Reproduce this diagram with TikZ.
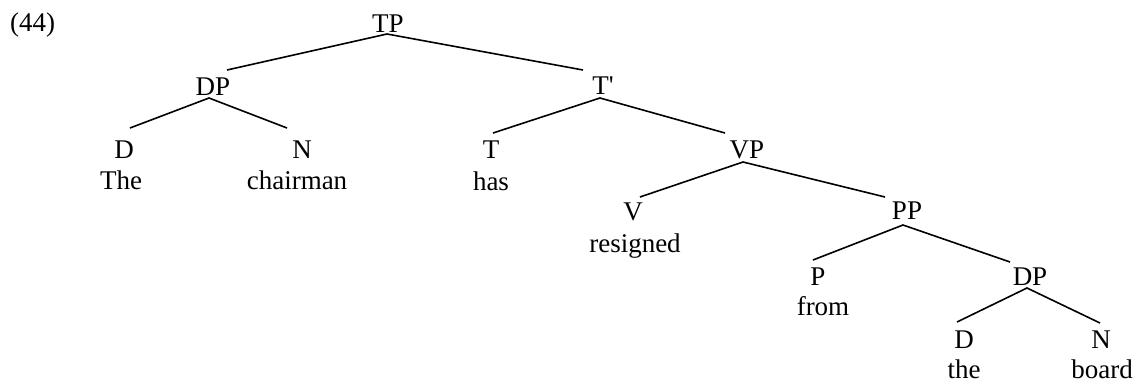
\documentclass[tikz,border=0pt]{standalone}
\usepackage{fontspec}
\newfontfamily\tf{Liberation Serif}
\begin{document}
\begin{tikzpicture}[x=1pt,y=-1pt,
  lab/.style={anchor=base,inner sep=0pt,font=\tf\fontsize{27}{32}\selectfont},
  edge/.style={line width=1.6pt,line cap=butt}]
\useasboundingbox (0,0) rectangle (1136,381);
% labels
\node[lab,anchor=base west] (ex) at (10,31) {(44)};
\node[lab] (TP) at (388,32) {TP};
\node[lab] (DPa) at (213,95) {DP};
\node[lab] (Tbar) at (603,94) {T'};
\node[lab] (Da) at (124,158) {D};
\node[lab] (Na) at (302,158) {N};
\node[lab] (T) at (491,158) {T};
\node[lab] (VP) at (747,158) {VP};
\node[lab] (wThe) at (121,189) {The};
\node[lab] (wchairman) at (297,189) {chairman};
\node[lab] (whas) at (491,190) {has};
\node[lab] (V) at (633,220) {V};
\node[lab] (PP) at (907,219) {PP};
\node[lab] (wresigned) at (635,252) {resigned};
\node[lab] (P) at (818,285) {P};
\node[lab] (DPb) at (1030,285) {DP};
\node[lab] (wfrom) at (823,315) {from};
\node[lab] (Db) at (964,348) {D};
\node[lab] (Nb) at (1101,348) {N};
\node[lab] (wthe) at (964,378) {the};
\node[lab] (wboard) at (1102,378) {board};
% edge end points
\coordinate (TP-b) at (387,34);
\coordinate (DPa-t) at (227,70);
\coordinate (Tbar-t) at (583,70);
\coordinate (DPa-b) at (209,98);
\coordinate (Da-t) at (130,128);
\coordinate (Na-t) at (287,128);
\coordinate (Tbar-b) at (600,98);
\coordinate (T-t) at (493,133);
\coordinate (VP-t) at (725,133);
\coordinate (VP-b) at (743,162);
\coordinate (V-t) at (640,197);
\coordinate (PP-t) at (885,197);
\coordinate (PP-b) at (903,225);
\coordinate (P-t) at (813,260);
\coordinate (DPb-t) at (1010,262);
\coordinate (DPb-b) at (1027,288);
\coordinate (Db-t) at (957,322);
\coordinate (Nb-t) at (1100,323);
% edges
\draw[edge] (DPa-t) -- (TP-b) -- (Tbar-t);
\draw[edge] (Da-t) -- (DPa-b) -- (Na-t);
\draw[edge] (T-t) -- (Tbar-b) -- (VP-t);
\draw[edge] (V-t) -- (VP-b) -- (PP-t);
\draw[edge] (P-t) -- (PP-b) -- (DPb-t);
\draw[edge] (Db-t) -- (DPb-b) -- (Nb-t);
\end{tikzpicture}
\end{document}
